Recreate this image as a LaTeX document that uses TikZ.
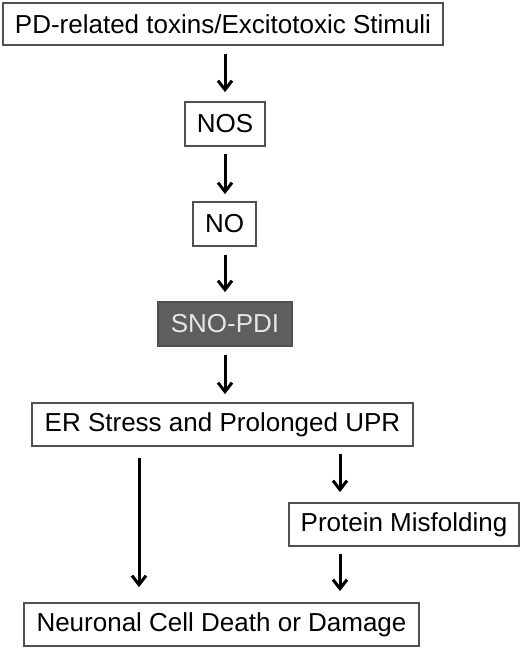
\documentclass[tikz,border=0pt]{standalone}
\usepackage{fontspec}
\setmainfont{Liberation Sans}
\usetikzlibrary{arrows.meta,calc}
\definecolor{boxline}{HTML}{505050}
\definecolor{snofill}{HTML}{5E5E5E}
\definecolor{snotext}{HTML}{E6E6E6}
\tikzset{
  box/.style={draw=boxline, line width=1.8pt, fill=white, inner sep=0pt, font=\fontsize{26}{30}\selectfont},
  darkbox/.style={box, fill=snofill, text=snotext},
  arr/.style={line width=3pt, -{Straight Barb[length=9pt,width=14pt,line width=3pt]}}
}
\begin{document}
\begin{tikzpicture}[x=1pt,y=-1pt]
\useasboundingbox (0,0) rectangle (529,649);
\node[box, minimum width=440pt, minimum height=42pt] (top) at (223,24) {PD-related toxins/Excitotoxic Stimuli};
\node[box, minimum width=80pt, minimum height=44pt] (nos) at (225,124) {NOS};
\node[box, minimum width=63pt, minimum height=44pt] (no) at (224.5,224) {NO};
\node[darkbox, minimum width=134pt, minimum height=44pt] (sno) at (225,324) {SNO-PDI};
\node[box, minimum width=381pt, minimum height=43pt] (er) at (222.5,424.5) {ER Stress and Prolonged UPR};
\node[box, minimum width=230pt, minimum height=43pt] (pm) at (404,524.5) {Protein Misfolding};
\node[box, minimum width=395pt, minimum height=43pt] (nd) at (221.5,624.5) {Neuronal Cell Death or Damage};
\coordinate (cx) at (225,0);
\coordinate (lx) at (139,0);
\coordinate (rx) at (340,0);
\draw[arr, shorten <=8pt, shorten >=9pt] (top.south -| cx) -- (nos.north -| cx);
\draw[arr, shorten <=7pt, shorten >=7pt] (nos.south -| cx) -- (no.north -| cx);
\draw[arr, shorten <=8pt, shorten >=9pt] (no.south -| cx) -- (sno.north -| cx);
\draw[arr, shorten <=8pt, shorten >=8pt] (sno.south -| cx) -- (er.north -| cx);
\draw[arr, shorten <=11pt, shorten >=15pt] (er.south -| lx) -- (nd.north -| lx);
\draw[arr, shorten <=7pt, shorten >=10pt] (er.south -| rx) -- (pm.north -| rx);
\draw[arr, shorten <=7pt, shorten >=11pt] (pm.south -| rx) -- (nd.north -| rx);
\end{tikzpicture}
\end{document}
